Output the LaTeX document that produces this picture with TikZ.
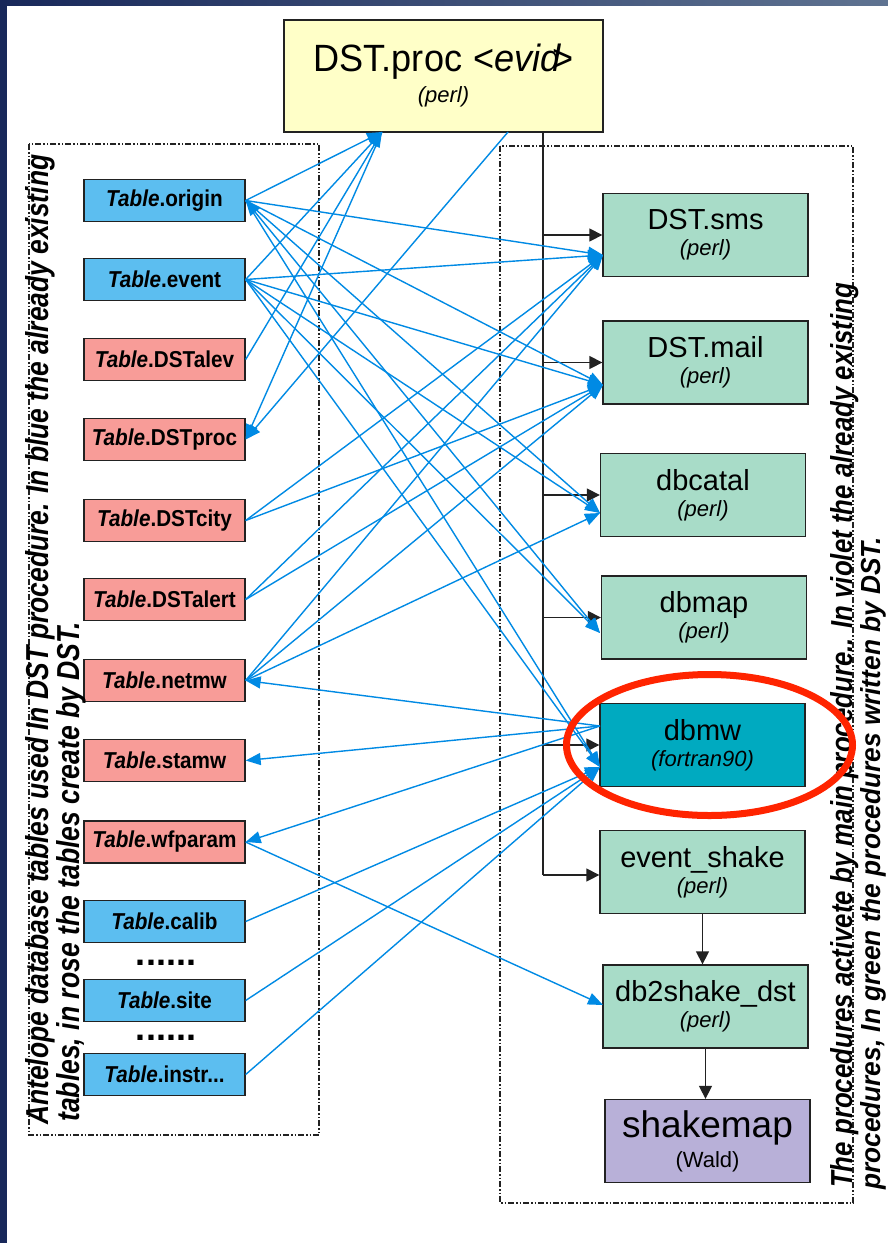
\documentclass[tikz,border=0pt]{standalone}
\usepackage{fontspec}
\setmainfont{Liberation Sans}
\usepackage{graphicx}
\usetikzlibrary{arrows.meta,calc}

\definecolor{navy}{RGB}{24,40,90}
\definecolor{slate}{RGB}{95,115,145}
\definecolor{procyellow}{RGB}{255,255,200}
\definecolor{tblue}{RGB}{92,190,240}
\definecolor{trose}{RGB}{248,156,152}
\definecolor{pgreen}{RGB}{168,220,200}
\definecolor{pcyan}{RGB}{0,170,192}
\definecolor{pviolet}{RGB}{184,176,216}
\definecolor{linkblue}{RGB}{0,138,228}
\definecolor{ringred}{RGB}{255,36,0}
\definecolor{edgegray}{RGB}{34,34,34}

\newcommand{\subtxt}[1]{{\fontsize{22}{22}\selectfont\itshape #1}}
\newcommand{\tname}[1]{\scalebox{0.9}[1]{\textit{Table}.#1}}

\begin{document}
\begin{tikzpicture}[x=1pt,y=-1pt,
  tblbox/.style={draw=edgegray, line width=1.3pt, minimum width=161pt, minimum height=42pt,
    inner sep=0pt, font=\fontsize{23}{23}\selectfont\bfseries},
  bluetbl/.style={tblbox, fill=tblue},
  rosetbl/.style={tblbox, fill=trose},
  procbox/.style={draw=edgegray, line width=1.3pt, fill=pgreen, minimum width=205pt,
    minimum height=83pt, inner sep=0pt, align=center, font=\fontsize{29}{26}\selectfont},
  bluelink/.style={draw=linkblue, line width=1.4pt, -{Triangle[length=15pt,width=12pt]}},
  bothlink/.style={draw=linkblue, line width=1.4pt, {Triangle[length=15pt,width=12pt]}-{Triangle[length=15pt,width=12pt]}},
  flowline/.style={draw=edgegray, line width=1.3pt, -{Triangle[length=13pt,width=13pt]}},
  trunkline/.style={draw=edgegray, line width=1.3pt},
  dashframe/.style={draw=edgegray, line width=1.2pt, dash pattern=on 6pt off 2pt on 1.5pt off 2pt on 1.5pt off 2pt},
  sidenote/.style={rotate=90, anchor=base west, inner sep=0pt, font=\bfseries\itshape},
  dotrow/.style={inner sep=0pt, font=\fontsize{36}{36}\selectfont\bfseries}
]
\useasboundingbox (0,0) rectangle (888,1243);
\fill[white] (0,0) rectangle (888,1243);
\shade[left color=navy, right color=slate] (0,0) rectangle (888,5);
\fill[navy] (0,0) rectangle (7,1243);

% dashed frames
\draw[dashframe] (29,144) rectangle (319,1135);
\draw[dashframe] (500,146) rectangle (853,1203);

% main procedure
\node[procbox, fill=procyellow, minimum width=319pt, minimum height=112pt,
  font=\fontsize{38}{31}\selectfont] (dstproc) at (443.5,76)
  {\scalebox{0.95}[1]{DST.proc\hspace{12pt}<\textit{evid}\kern-10pt>}\\\subtxt{(perl)}};

% tables
\node[bluetbl] (origin)   at (164.5,200.5) {\tname{origin}};
\node[bluetbl] (event)    at (164.5,279.5) {\tname{event}};
\node[rosetbl] (dstalev)  at (164.5,359.5) {\tname{DSTalev}};
\node[rosetbl] (dstproct) at (164.5,439.5) {\tname{DSTproc}};
\node[rosetbl] (dstcity)  at (164.5,520.5) {\tname{DSTcity}};
\node[rosetbl] (dstalert) at (164.5,599.5) {\tname{DSTalert}};
\node[rosetbl] (netmw)    at (164.5,680.5) {\tname{netmw}};
\node[rosetbl] (stamw)    at (164.5,760.5) {\tname{stamw}};
\node[rosetbl] (wfparam)  at (164.5,842)   {\tname{wfparam}};
\node[bluetbl] (calib)    at (164.5,921.5) {\tname{calib}};
\node[dotrow]  (dots1)    at (166,963)     {......};
\node[bluetbl] (site)     at (164.5,1000.5){\tname{site}};
\node[dotrow]  (dots2)    at (166,1038)    {......};
\node[bluetbl] (instr)    at (164.5,1074.5){\tname{instr...}};

% procedures
\node[procbox] (sms)      at (705.5,235)   {DST.sms\\\subtxt{(perl)}};
\node[procbox] (mail)     at (705.5,362.5) {DST.mail\\\subtxt{(perl)}};
\node[procbox] (dbcatal)  at (703,495)     {dbcatal\\\subtxt{(perl)}};
\node[procbox] (dbmap)    at (704,617.5)   {dbmap\\\subtxt{(perl)}};
\node[procbox, fill=pcyan] (dbmw) at (702.5,745) {dbmw\\\subtxt{(fortran90)}};
\node[procbox] (eshake)   at (702.5,872)   {event\_shake\\\subtxt{(perl)}};
\node[procbox] (db2shake) at (705.5,1006.5){db2shake\_dst\\\subtxt{(perl)}};
\node[procbox, fill=pviolet, font=\fontsize{37}{30}\selectfont] (shakemap) at (707.5,1141)
  {shakemap\\{\fontsize{22}{22}\selectfont (Wald)}};

% connection points
\coordinate (pIn)    at (382,132);
\coordinate (pOut)   at (508,132);
\coordinate (trunktop) at (543,132);
\coordinate (trunkbot) at (543,875);
\coordinate (smsIn)  at (603,255);
\coordinate (mailIn) at (603,385);
\coordinate (catIn)  at (600,513);
\coordinate (mapIn)  at (600,633);
\coordinate (mwOut)  at (600,726);
\coordinate (mwIn)   at (600,767);
\coordinate (dbsIn)  at (603,1005);

% black control flow
\draw[trunkline] (trunktop) -- (trunkbot);
\draw[flowline] (sms.west -| trunktop) -- (sms.west);
\draw[flowline] (mail.west -| trunktop) -- (mail.west);
\draw[flowline] (dbcatal.west -| trunktop) -- (dbcatal.west);
\draw[flowline] (dbmap.west -| trunktop) -- (dbmap.west);
\draw[flowline] (dbmw.west -| trunktop) -- (dbmw.west);
\draw[flowline] (trunkbot) -- (trunkbot -| eshake.west);
\draw[flowline] (eshake.south) -- (eshake.south |- db2shake.north);
\draw[flowline] (db2shake.south) -- (db2shake.south |- shakemap.north);

% blue data links
\draw[bluelink] (origin.east) -- (pIn);
\draw[bluelink] (event.east) -- (pIn);
\draw[bluelink] (dstalev.east) -- (pIn);
\draw[bluelink] (pIn) -- (dstproct.east);
\draw[bluelink] (pOut) -- (dstproct.east);

\draw[bluelink] (origin.east) -- (smsIn);
\draw[bluelink] (event.east) -- (smsIn);
\draw[bluelink] (dstcity.east) -- (smsIn);
\draw[bluelink] (dstalert.east) -- (smsIn);
\draw[bluelink] (netmw.east) -- (smsIn);

\draw[bluelink] (origin.east) -- (mailIn);
\draw[bluelink] (event.east) -- (mailIn);
\draw[bluelink] (dstcity.east) -- (mailIn);
\draw[bluelink] (dstalert.east) -- (mailIn);
\draw[bluelink] (netmw.east) -- (mailIn);

\draw[bluelink] (origin.east) -- (catIn);
\draw[bluelink] (event.east) -- (catIn);
\draw[bluelink] (netmw.east) -- (catIn);

\draw[bothlink] (origin.east) -- (mapIn);
\draw[bluelink] (event.east) -- (mapIn);

\draw[bluelink] (origin.east) -- (mwIn);
\draw[bluelink] (event.east) -- (mwIn);
\draw[bluelink] (calib.east) -- (mwIn);
\draw[bluelink] (site.east) -- (mwIn);
\draw[bluelink] (instr.east) -- (mwIn);

\draw[bluelink] (mwOut) -- (netmw.east);
\draw[bluelink] (mwOut) -- (stamw.east);
\draw[bluelink] (mwOut) -- (wfparam.east);
\draw[bluelink] (wfparam.east) -- (dbsIn);

% side notes
\node[sidenote] (lnote1) at (48,1125)
  {\resizebox{970pt}{23pt}{Antelope database tables used In DST procedure. In blue the already existing}};
\node[sidenote] (lnote2) at (79,1122)
  {\resizebox{500pt}{23pt}{tables, in rose the tables create by DST.}};
\node[sidenote] (rnote1) at (852,1188)
  {\resizebox{905pt}{22pt}{The procedures activete by main procedure.. In violet the already existing}};
\node[sidenote] (rnote2) at (880,1190)
  {\resizebox{653pt}{20pt}{procedures, In green the procedures written by DST.}};

% highlight ring
\draw[ringred, line width=7pt] (709.5,745) ellipse [x radius=143, y radius=70.5];
\end{tikzpicture}
\end{document}
